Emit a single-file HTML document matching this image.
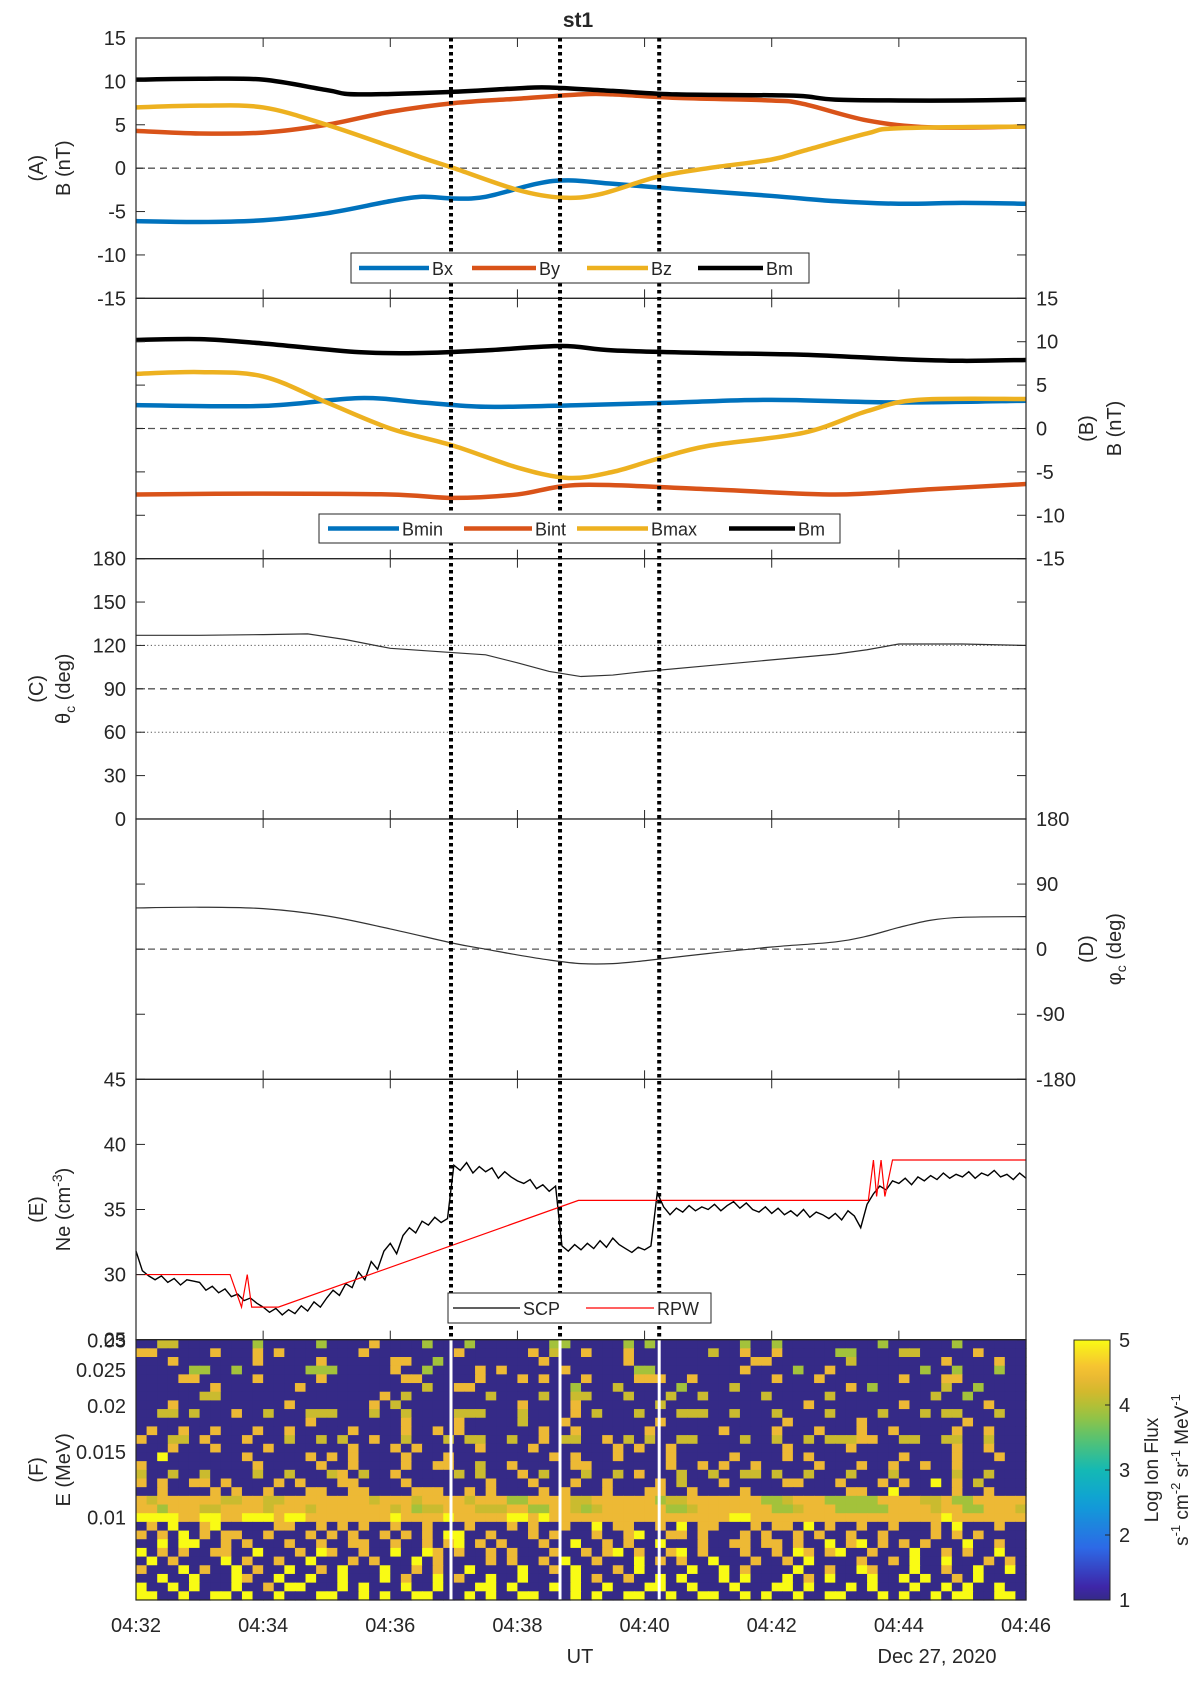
<!DOCTYPE html>
<html><head><meta charset="utf-8">
<style>
html,body{margin:0;padding:0;background:#fff;}
svg{display:block;font-family:"Liberation Sans",sans-serif;}
</style></head>
<body>
<svg id="fig" width="1200" height="1682" viewBox="0 0 1200 1682" xmlns="http://www.w3.org/2000/svg"></svg>
<script>
// ---------- DATA ----------
const tickTimes=["04:32","04:34","04:36","04:38","04:40","04:42","04:44","04:46"];
const eventTimes=[4.955,6.67,8.23];
const bxT=[0,1,2,3,4,4.5,5,5.5,6.3,6.8,7.5,8.5,10,11,12,13,14];
const bxV=[-6.1,-6.2,-6.0,-5.2,-3.8,-3.3,-3.5,-3.3,-1.8,-1.4,-1.8,-2.4,-3.2,-3.8,-4.1,-4.0,-4.1];
const byT=[0,1,2,3,4,5,6,7,7.5,8.5,10,10.5,11.5,12.5,14];
const byV=[4.3,4.0,4.1,5.0,6.5,7.5,8.0,8.5,8.5,8.1,7.8,7.4,5.5,4.7,4.8];
const bzT=[0,1,2,3,4,4.5,5,6,6.7,7.3,8.2,9,10,10.5,11.5,12,14];
const bzV=[7.0,7.2,7.0,5.0,2.5,1.2,0,-2.5,-3.4,-3.0,-1,0,1,2,4.0,4.6,4.8];
const bmT=[0,1,2,3,3.5,5,6,6.5,7.5,8.5,10,10.5,11,12,13,14];
const bmV=[10.2,10.3,10.2,9.0,8.5,8.8,9.2,9.3,8.9,8.5,8.4,8.3,7.9,7.8,7.8,7.9];
const bminT=[0,2,3.5,4.5,5.5,7,8.5,10,12,14];
const bminV=[2.7,2.6,3.5,3.0,2.5,2.7,3.0,3.3,3.0,3.2];
const bintT=[0,2,4,5,6,7,9,11,12.5,14];
const bintV=[-7.6,-7.5,-7.6,-8.0,-7.6,-6.5,-7.0,-7.6,-7.0,-6.4];
const bmaxT=[0,1,2,3,4,5,6,6.8,7.5,8.2,9,10.5,11.5,12.3,14];
const bmaxV=[6.3,6.5,6.0,3.0,0,-2,-4.5,-5.7,-5,-3.5,-2,-0.5,2.0,3.3,3.4];
const bm2T=[0,1,2,3.5,4.5,5.5,6.7,7.5,9,10.5,12,13,14];
const bm2V=[10.2,10.3,9.8,8.8,8.7,9.0,9.5,9.0,8.7,8.5,8.0,7.8,7.9];
const thT=[0,1,2,2.7,3.3,4,5,5.5,6,6.5,7,7.5,8,9,10,11,11.5,12,13,14];
const thV=[127,127,127.5,128,124,118,115,113.5,108,102,98.5,99.5,102,106,110,114,117,121,121,120];
const phT=[0,1,2,3,4,5,5.5,6,6.5,7,7.5,8,9,10,11,11.5,12,12.5,13,14];
const phV=[57,58,56,46,28,8,0,-8,-15,-20,-20,-16,-6,3,10,18,30,40,44,45];
const scpV=[31.8,30.3,29.9,29.6,29.9,29.4,29.7,29.2,29.6,29.5,
29.4,28.8,29.1,28.6,28.9,28.3,28.5,28.0,28.2,27.8,
27.5,27.1,27.4,26.9,27.3,27.0,27.6,27.2,27.9,27.5,
28.2,28.8,28.4,29.3,29.0,30.2,29.6,31.0,30.4,31.8,
32.4,31.6,33.0,33.6,33.2,34.1,33.8,34.4,34.0,34.3,
38.4,38.0,38.6,37.8,38.3,37.9,38.2,37.4,37.9,37.5,
37.2,37.0,37.3,36.6,36.9,36.4,36.8,32.2,31.8,32.3,
31.9,32.4,32.0,32.6,32.1,32.8,32.3,32.0,31.7,32.1,
31.9,32.2,36.3,35.2,34.6,35.1,34.8,35.3,34.9,35.2,
35.0,35.4,34.9,35.3,35.6,35.1,35.5,35.0,34.8,35.2,
34.7,35.1,34.6,34.9,34.5,35.0,34.4,34.8,34.6,34.3,
34.7,34.2,34.9,34.5,33.6,35.4,36.2,36.8,36.5,37.2,
37.0,37.4,36.9,37.5,37.2,37.6,37.3,37.8,37.4,37.7,
37.5,37.9,37.4,37.8,37.6,38.0,37.5,37.7,37.3,37.8,
37.4];
const rpwT=[0,1.48,1.66,1.75,1.82,2.24,6.96,11.52,11.6,11.65,11.72,11.78,11.9,14];
const rpwV=[30,30,27.5,30,27.5,27.5,35.7,35.7,38.8,36,38.8,36,38.8,38.8];
const fluxRows=[
"..44.......3.....3....5....3...3.......33.....3.3........3..3.........3......3.....",
"55.....5...5.5.......5........5......5.4..5...5.......4..5..5.....33....44.....5...",
"...5.......5.....5......55..3.........5.......5...........55.......4........5....5.",
".....33..3......333.....5..3....5.5.....5......33........5....3..5........3..3...3",
"....55.....5.....5.......55.....5...5.5...5....555..5.......5...5.......5...55.....",
".......5.......5...........4..55.........3...4.....3....4..........5.3......4..3...",
"......44...............5.4.......4....4..44...4...4..4.....4.....4.........4..3....",
"...5..........5.......5.4...........5....5.......4.............5........5.......5..",
"..44.4...5..4...444...4..4....444...4....5.4...4...444..4...4....4....4...4.44...4.",
"................5........5....5.....4...5........5...........5......5.........5....",
".5..5..5...5..5.....5....5..5.5.......5..5......5......5....5...5...5..5.....5..5..",
"5..44.5...5...4..4.4..5..4...4.44..4..5.44..5.4.4..44....4..4..4.44455..44..44..4.",
"...5...5....5.......5...5.5.....5....5.......5.5..5..........5.....5.........5..5..",
"..6.......5.....5.5.5....5...5.........5.5...5....5.....5....5.5........5....5...5.",
"5..........5.....5..5....5..55..4..5.....55.......5..5.5..5.....5...5..5..5..5.....",
"4..4..4....4..4...45.4..5.....4.4...5.4...4..4.5...4..4..44.4..4...4...4.....4..4..",
"5.5..55.5....5.5...55....5.......5...5...5..5....5.4...5.....55...5...5.5..6.5.4...",
"..5....5.5..5...55..55....555..5.5....5.5...5...55..5....5.........55..6.....5..5..",
"545555554455445555555545554555545553355554455555534455555553345553333355554453355555",
"553555445555455545555555453445554445533554345555553345555555334555333335555455335554",
"666655665566656655555555655556555556656555555555555555556655555555555555555565555555",
".5.6..56.....55..5.5.5..5..5...5...5.5..5..6.55..5.6.55...5.55.6.5..5..5...5.6...5.",
"5.5.6.5.55..5...5.5.5..5.5.5.66..5...5.5...5..56..55.5...5.5..5.5..5..5....5.5.5...",
"..6.66..5.5...5..5..55..5..5.56.5.5...5..6..5.5..6...5..55.55.5..6.56.5.5.5...6..5.",
"6.5.5..55..6...5.65..5..6..65.5..5.5...5..5.56.5..56.5...5..5.65.56..5...6..5.5..6.",
".6.5....6.5..5..6...5.5...6.5....5.5..5.6..5...6.5.5..6...5..5.6....5..5.6..6...5.5",
"5...6.5..6.5..6..5.6...6..5.5..6....6..5.6...5.6....6..6.5....6..5..65...6..5..6..6",
"..6..6...65..6..6..6...6.5..6.5..6..6....6.5..5..6.6...6.6...6.5.6...6..6.6..5.6...",
"6..6.6...6..5.66...6.6...6..6...66.6...6.6..6...66..6...6...66.6...6.6...6..6.6..6.",
"66..6..66.6..6...66..6.6..66...6.6..66...6.6..66..6..66..6.6..6..66...6.6..6.66..66"];
const fluxLevels={".":1,"3":3.9,"4":4.15,"5":4.45,"6":5};
const eTickVals=[0.01,0.015,0.02,0.025,0.03];
const eTickLabels=["0.01","0.015","0.02","0.025","0.03"];
const cbarTicks=[1,2,3,4,5];

// ---------- GEOMETRY ----------
const NS="http://www.w3.org/2000/svg";
const svg=document.getElementById('fig');
const X0=136,X1=1026,TOP=38,PH=260.33;
const pTop=i=>TOP+i*PH;
const sx=t=>X0+t*(X1-X0)/14;
const lin=(i,lo,hi)=>v=>pTop(i)+PH*(hi-v)/(hi-lo);
const yA=lin(0,-15,15),yB=lin(1,-15,15),yC=lin(2,0,180),yD=lin(3,-180,180),yE=lin(4,25,45);
const F_TOP=pTop(5),F_BOT=pTop(6);
const eMin=0.00598,eMax=0.0302;
const yF=e=>F_BOT-(F_BOT-F_TOP)*(Math.log10(e)-Math.log10(eMin))/(Math.log10(eMax)-Math.log10(eMin));
const FONT='#262626';

function mk(tag,attrs,parent){const e=document.createElementNS(NS,tag);for(const k in attrs)e.setAttribute(k,attrs[k]);(parent||svg).appendChild(e);return e;}
function txt(s,x,y,anchor,size,parent,extra){const e=mk('text',Object.assign({x:x,y:y,'text-anchor':anchor,'font-size':size,fill:FONT},extra||{}),parent);e.textContent=s;return e;}
function smooth(pts){let d=`M${pts[0][0]},${pts[0][1]}`;for(let i=0;i<pts.length-1;i++){const p0=pts[Math.max(0,i-1)],p1=pts[i],p2=pts[i+1],p3=pts[Math.min(pts.length-1,i+2)];const c1=[p1[0]+(p2[0]-p0[0])/6,p1[1]+(p2[1]-p0[1])/6],c2=[p2[0]-(p3[0]-p1[0])/6,p2[1]-(p3[1]-p1[1])/6];d+=` C${c1[0]},${c1[1]} ${c2[0]},${c2[1]} ${p2[0]},${p2[1]}`;}return d;}
function series(T,V,ys,color,w,name){const pts=T.map((t,i)=>[sx(t),ys(V[i])]);const p=mk('path',{d:smooth(pts),fill:'none',stroke:color,'stroke-width':w,'stroke-linejoin':'round'});


return p;}
function polyl(T,V,ys,color,w,name){const p=mk('polyline',{points:T.map((t,i)=>sx(t)+','+ys(V[i])).join(' '),fill:'none',stroke:color,'stroke-width':w});


return p;}
function hline(y,dash,name,w){const l=mk('line',{x1:X0,x2:X1,y1:y,y2:y,stroke:'#555','stroke-width':w||1.3,'stroke-dasharray':dash});

}
function rotLabel(s,x,y,name,size){const g=mk('text',{transform:`translate(${x},${y}) rotate(-90)`,'text-anchor':'middle','font-size':size||20,fill:FONT});g.innerHTML=s;


return g;}
function yAxis(ys,vals,labels,side,name){vals.forEach((v,i)=>{const y=ys(v);
const t1=mk('line',{x1:X0,x2:X0+9,y1:y,y2:y,stroke:FONT,'stroke-width':1});


const t2=mk('line',{x1:X1-9,x2:X1,y1:y,y2:y,stroke:FONT,'stroke-width':1});


if(labels[i]!==''){const tx=side==='left'?txt(labels[i],126,y+7,'end',20):txt(labels[i],1036,y+7,'start',20);

}});}
function xTicks(i){tickTimes.forEach((s,k)=>{const x=sx(k*2);
const a=mk('line',{x1:x,x2:x,y1:pTop(i),y2:pTop(i)+9,stroke:FONT,'stroke-width':1});


const b=mk('line',{x1:x,x2:x,y1:pTop(i+1)-9,y2:pTop(i+1),stroke:FONT,'stroke-width':1});

});}
function frame(i,name){const r=mk('rect',{x:X0,y:pTop(i),width:X1-X0,height:PH,fill:'none',stroke:FONT,'stroke-width':1.2});

}
function legend(x,y,w,h,entries,lw,name){const g=mk('g',{});


const r=mk('rect',{x:x,y:y,width:w,height:h,fill:'#fff',stroke:FONT,'stroke-width':1},g);


entries.forEach(e=>{const l=mk('line',{x1:e[0],x2:e[1],y1:y+h/2,y2:y+h/2,stroke:e[3],'stroke-width':lw},g);


const t=txt(e[2],e[1]+3,y+h/2+7,'start',18,g);

});}

const stops=[[0,[53,42,135]],[0.05,[62,38,168]],[0.2,[45,105,230]],[0.375,[15,160,215]],[0.5,[20,185,180]],[0.625,[90,195,110]],[0.72,[160,195,60]],[0.8,[210,185,45]],[0.88,[245,185,55]],[1,[249,251,20]]];
function cmap(v){const t=Math.max(0,Math.min(1,(v-1)/4));for(let i=0;i<stops.length-1;i++){const a=stops[i],b=stops[i+1];if(t<=b[0]){const f=(t-a[0])/(b[0]-a[0]);return 'rgb('+a[1].map((c,k)=>Math.round(c+f*(b[1][k]-c))).join(',')+')';}}return 'rgb(249,251,20)';}

const title=txt('st1',578,27,'middle',21,svg,{'font-weight':'bold'});



// ---------- PANEL F ----------
const nRows=fluxRows.length,nCols=84;
const lEmin=Math.log10(eMin),lEmax=Math.log10(eMax);
for(let r=0;r<nRows;r++){const row=fluxRows[r].padEnd(nCols,'.').slice(0,nCols);
const eHi=Math.pow(10,lEmax-(lEmax-lEmin)*r/nRows),eLo=Math.pow(10,lEmax-(lEmax-lEmin)*(r+1)/nRows);
for(let c=0;c<nCols;c++){const v=fluxLevels[row[c]];const t0=c*14/nCols,t1=(c+1)*14/nCols;
const cell=mk('rect',{x:sx(t0),y:yF(eHi),width:sx(t1)-sx(t0)+0.6,height:yF(eLo)-yF(eHi)+0.6,fill:cmap(v)});

}}
eventTimes.forEach(t=>{const l=mk('line',{x1:sx(t),x2:sx(t),y1:F_TOP,y2:F_BOT,stroke:'#fff','stroke-width':3});

});
eTickVals.forEach((e,i)=>{const tx=txt(eTickLabels[i],126,yF(e)+7,'end',20);

});

// ---------- PANEL A ----------
hline(yA(0),'7,5','zero-line-a');
series(bxT,bxV,yA,'#0072bd',4.5,'bx-line');
series(byT,byV,yA,'#d95319',4.5,'by-line');
series(bzT,bzV,yA,'#edb120',4.5,'bz-line');
series(bmT,bmV,yA,'#000',4.5,'bm-line');
yAxis(yA,[-15,-10,-5,0,5,10,15],['-15','-10','-5','0','5','10','15'],'left','y-axis-a');
rotLabel('(A)',43,pTop(0)+PH/2,'panel-a-label');
rotLabel('B (nT)',70,pTop(0)+PH/2,'y-axis-title-a');

// ---------- PANEL B ----------
hline(yB(0),'7,5','zero-line-b');
series(bminT,bminV,yB,'#0072bd',4.5,'bmin-line');
series(bintT,bintV,yB,'#d95319',4.5,'bint-line');
series(bmaxT,bmaxV,yB,'#edb120',4.5,'bmax-line');
series(bm2T,bm2V,yB,'#000',4.5,'bm-line-b');
yAxis(yB,[-15,-10,-5,0,5,10,15],['-15','-10','-5','0','5','10','15'],'right','y-axis-b');
rotLabel('(B)',1093,pTop(1)+PH/2,'panel-b-label');
rotLabel('B (nT)',1121,pTop(1)+PH/2,'y-axis-title-b');

// ---------- PANEL C ----------
hline(yC(120),'1.2,2.5','ref-line-120',1);
hline(yC(60),'1.2,2.5','ref-line-60',1);
hline(yC(90),'7,5','ref-line-90');
polyl(thT,thV,yC,'#333',1.2,'theta-c-line');
yAxis(yC,[0,30,60,90,120,150,180],['0','30','60','90','120','150','180'],'left','y-axis-c');
rotLabel('(C)',43,pTop(2)+PH/2,'panel-c-label');
rotLabel('θ<tspan font-size="14" dy="5">c</tspan><tspan dy="-5"> (deg)</tspan>',70,pTop(2)+PH/2,'y-axis-title-c');

// ---------- PANEL D ----------
hline(yD(0),'7,5','zero-line-d');
series(phT,phV,yD,'#333',1.2,'phi-c-line');
yAxis(yD,[-180,-90,0,90,180],['-180','-90','0','90','180'],'right','y-axis-d');
rotLabel('(D)',1093,pTop(3)+PH/2,'panel-d-label');
rotLabel('φ<tspan font-size="14" dy="5">c</tspan><tspan dy="-5"> (deg)</tspan>',1121,pTop(3)+PH/2,'y-axis-title-d');

// ---------- PANEL E ----------
polyl(scpV.map((v,i)=>i*0.1),scpV,yE,'#000',1.4,'scp-line');
polyl(rpwT,rpwV,yE,'#ff0000',1.2,'rpw-line');
yAxis(yE,[25,30,35,40,45],['25','30','35','40','45'],'left','y-axis-e');
rotLabel('(E)',43,pTop(4)+PH/2,'panel-e-label');
rotLabel('Ne (cm<tspan font-size="14" dy="-8">-3</tspan><tspan dy="8">)</tspan>',70,pTop(4)+PH/2,'y-axis-title-e');

rotLabel('(F)',43,pTop(5)+PH/2,'panel-f-label');
rotLabel('E (MeV)',70,pTop(5)+PH/2,'y-axis-title-f');

['panel-a-frame','panel-b-frame','panel-c-frame','panel-d-frame','panel-e-frame','panel-f-frame'].forEach((n,i)=>{frame(i,n);if(i<5)xTicks(i);});

eventTimes.forEach(t=>{const l=mk('line',{x1:sx(t),x2:sx(t),y1:pTop(0),y2:pTop(5),stroke:'#000','stroke-width':4,'stroke-dasharray':'3.5,3.5'});

});

legend(351,253,458,30,[[359,429,'Bx','#0072bd'],[472,536,'By','#d95319'],[587,648,'Bz','#edb120'],[698,763,'Bm','#000']],4.5,'legend-a');
legend(319,514,521,29,[[328,399,'Bmin','#0072bd'],[464,532,'Bint','#d95319'],[577,648,'Bmax','#edb120'],[729,795,'Bm','#000']],4.5,'legend-b');
legend(448,1293,263,30,[[453,520,'SCP','#000'],[586,654,'RPW','#ff0000']],1.2,'legend-e');

tickTimes.forEach((s,k)=>{const tx=txt(s,sx(k*2),1632,'middle',20);

});
const ut=txt('UT',580,1663,'middle',20);


const dt=txt('Dec 27, 2020',937,1663,'middle',20);



const defs=mk('defs',{});
const grad=mk('linearGradient',{id:'cb',x1:0,y1:1,x2:0,y2:0},defs);
for(let i=0;i<=20;i++){mk('stop',{offset:i/20,'stop-color':cmap(1+4*i/20)},grad);}
const cbX=1074,cbW=36,cbT=1340,cbB=1600;
const cb=mk('rect',{x:cbX,y:cbT,width:cbW,height:cbB-cbT,fill:'url(#cb)',stroke:FONT,'stroke-width':1});


cbarTicks.forEach(v=>{const y=cbB-(cbB-cbT)*(v-1)/4;
const l=mk('line',{x1:cbX+cbW-5,x2:cbX+cbW,y1:y,y2:y,stroke:FONT,'stroke-width':1});


const tx=txt(String(v),1119,y+7,'start',20);

});
rotLabel('Log Ion Flux',1158,1470,'colorbar-title',19);
rotLabel('s<tspan font-size="13" dy="-8">-1</tspan><tspan dy="8"> cm</tspan><tspan font-size="13" dy="-8">-2</tspan><tspan dy="8"> sr</tspan><tspan font-size="13" dy="-8">-1</tspan><tspan dy="8"> MeV</tspan><tspan font-size="13" dy="-8">-1</tspan>',1188,1470,'colorbar-units',19);
</script>
</body></html>
